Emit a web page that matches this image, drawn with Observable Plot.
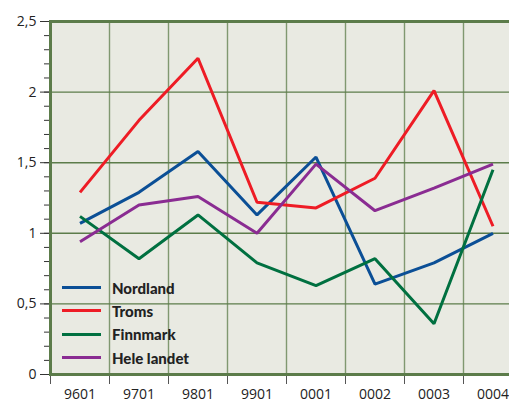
<!DOCTYPE html>
<html>
<head>
<meta charset="utf-8">
<script src="https://cdn.jsdelivr.net/npm/d3@7"></script>
<script src="https://cdn.jsdelivr.net/npm/@observablehq/plot@0.6"></script>
<style>
  html, body { margin: 0; padding: 0; background: #fff; overflow: hidden; width: 509px; height: 403px; }
  #wrap { position: relative; width: 509px; height: 403px; overflow: hidden; }
  #wrap svg { max-width: none !important; display: block; }
  #legend { position: absolute; left: 62px; top: 276px; font-family: Lato, "Open Sans", sans-serif; font-weight: 900; font-size: 15px; color: #222; }
  .row { display: flex; align-items: center; height: 23.3px; }
  .sw { width: 39px; height: 3px; margin-right: 11px; }
</style>
</head>
<body>
<div id="wrap"><div id="legend"></div></div>
<script>
const periods = ["9601", "9701", "9801", "9901", "0001", "0002", "0003", "0004"];
const seriesNames = ["Nordland", "Troms", "Finnmark", "Hele landet"];
const seriesColors = ["#0b4f96", "#ee1c25", "#007040", "#8a2c92"];
const nordland   = [1.07, 1.29, 1.58, 1.13, 1.54, 0.64, 0.79, 1.00];
const troms      = [1.29, 1.80, 2.24, 1.22, 1.18, 1.39, 2.01, 1.05];
const finnmark   = [1.12, 0.82, 1.13, 0.79, 0.63, 0.82, 0.36, 1.45];
const heleLandet = [0.94, 1.20, 1.26, 1.00, 1.49, 1.16, 1.32, 1.49];
const yMajor = [0, 0.5, 1, 1.5, 2, 2.5];

const allValues = [nordland, troms, finnmark, heleLandet];
const data = [];
allValues.forEach((vals, s) => vals.forEach((v, i) => data.push({series: seriesNames[s], i, v})));

const green = "#5c7c4a";
const minor = d3.range(0, 26).map(k => k / 10);
const bounds = d3.range(0, 9).map(k => k - 0.5);

const chart = Plot.plot({
  width: 530,
  height: 403,
  marginLeft: 50,
  marginRight: 8,
  marginTop: 21,
  marginBottom: 29,
  style: {fontFamily: "'Open Sans', sans-serif", fontSize: "14px", background: "transparent", color: "#222", maxWidth: "none"},
  x: {type: "linear", domain: [-0.5, 7.5], axis: null, label: null},
  y: {domain: [0, 2.5], axis: null, label: null},
  color: {domain: seriesNames, range: seriesColors},
  marks: [
    Plot.frame({fill: "#e9eae2", stroke: null}),
    Plot.ruleY(yMajor.slice(1, -1), {stroke: green, strokeWidth: 1.4}),
    Plot.ruleX(bounds.slice(1, -1), {stroke: green, strokeWidth: 1.4, strokeOpacity: 0.75}),
    Plot.axisY({ticks: minor, tickSize: 6, tickFormat: () => "", stroke: "#333", label: null}),
    Plot.axisY({ticks: yMajor, tickSize: 10, tickPadding: 4, stroke: "#333", label: null,
      tickFormat: d => String(d).replace(".", ","), fill: "#222"}),
    Plot.axisX({ticks: bounds, tickSize: 10, tickFormat: () => "", stroke: "#555", label: null}),
    Plot.axisX({ticks: d3.range(0, 8), tickSize: 0, tickPadding: 15, tickFormat: i => periods[i], fill: "#222", label: null}),
    Plot.lineY(data, {x: "i", y: "v", z: "series", stroke: "series", strokeWidth: 3, strokeLinejoin: "miter", strokeLinecap: "butt"}),
    Plot.frame({stroke: green, strokeWidth: 3, fill: null})
  ]
});
document.getElementById("wrap").prepend(chart);

const legend = document.getElementById("legend");
seriesNames.forEach((n, k) => {
  const row = document.createElement("div");
  row.className = "row";
  const sw = document.createElement("div");
  sw.className = "sw";
  sw.style.background = seriesColors[k];
  const t = document.createElement("span");
  t.textContent = n;
  row.append(sw, t);
  legend.append(row);
});
</script>
</body>
</html>
